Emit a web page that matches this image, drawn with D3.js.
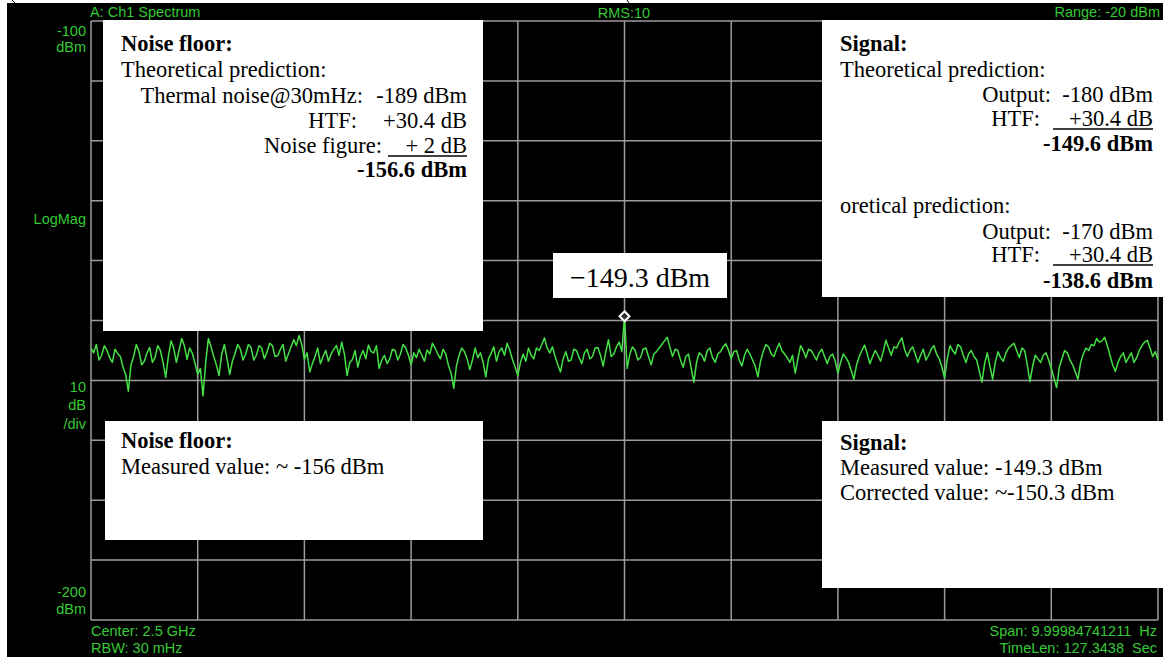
<!DOCTYPE html>
<html>
<head>
<meta charset="utf-8">
<script src="https://cdn.jsdelivr.net/npm/d3@7"></script>
<style>
body { margin: 0; background: #fff; }
</style>
</head>
<body>
<script>
const svgW = 1167;
const svgH = 657;

// trace, 401 points over 10 divisions (dBm)
const traceDbm = [
  -154.6, -155.4, -154.0, -156.6, -155.8, -154.2, -155.0, -156.2, -157.0, -154.8,
  -155.5, -156.0, -157.8, -159.0, -161.8, -157.4, -156.0, -154.0, -155.2, -157.4,
  -156.8, -155.4, -154.5, -157.0, -156.2, -154.2, -155.0, -157.0, -159.5, -156.0,
  -153.4, -154.6, -157.0, -155.0, -153.0, -154.2, -156.5, -154.6, -155.5, -157.2,

  -159.0, -158.0, -162.6, -157.0, -153.0, -154.4, -156.0, -157.4, -159.2, -155.6,
  -154.0, -156.4, -159.0, -156.8, -155.5, -154.0, -154.8, -156.6, -155.6, -154.0,
  -154.5, -156.6, -155.8, -154.2, -154.6, -156.4, -155.2, -153.8, -154.2, -156.0,
  -155.9, -154.8, -154.0, -156.8, -155.6, -154.4, -153.2, -154.2, -152.5, -154.0,

  -156.5, -155.4, -158.6, -157.2, -156.0, -154.6, -157.2, -156.0, -155.0, -156.8,
  -155.6, -154.8, -154.2, -155.8, -153.6, -155.6, -159.2, -157.0, -156.5, -155.0,
  -157.8, -156.0, -155.0, -156.4, -154.1, -155.2, -155.4, -154.2, -158.0, -156.6,
  -155.8, -157.2, -156.4, -154.8, -155.0, -156.6, -155.6, -154.0, -154.6, -155.8,

  -157.4, -155.4, -156.2, -154.8, -155.8, -156.8, -154.9, -155.6, -153.8, -154.6,
  -155.6, -156.4, -154.8, -155.6, -157.5, -158.8, -161.3, -157.6, -155.8, -154.6,
  -155.2, -156.4, -158.2, -156.6, -154.6, -156.2, -155.4, -157.0, -159.4, -156.4,
  -155.5, -154.4, -156.8, -155.2, -154.6, -155.8, -153.8, -155.0, -156.5, -157.8,

  -159.2, -157.0, -155.6, -156.8, -154.6, -155.8, -156.4, -154.6, -155.0, -154.0,
  -152.9, -154.6, -155.4, -154.4, -156.0, -157.4, -158.6, -156.4, -155.2, -156.8,
  -156.6, -154.8, -155.0, -156.2, -157.2, -155.4, -154.8, -156.4, -156.0, -154.6,
  -154.5, -155.8, -157.6, -155.2, -153.2, -156.0, -155.6, -154.4, -153.6, -155.2,

  -149.3,
  -158.0, -155.6, -154.4, -155.0, -156.6, -156.2, -154.8, -154.6, -156.0, -157.4,
  -155.6, -155.2, -154.6, -154.0, -153.4, -152.8, -154.4, -156.0, -154.8, -155.0,
  -156.6, -157.8, -156.0, -155.6, -158.0, -160.3, -157.0, -155.4, -155.8, -156.8,
  -155.0, -154.6, -156.2, -157.0, -155.6, -155.2, -154.4, -153.9, -155.0,

  -156.4, -155.2, -155.0, -156.6, -157.6, -155.8, -154.8, -155.6, -156.6, -157.6,
  -159.4, -156.8, -155.2, -154.0, -154.4, -155.6, -156.0, -154.8, -153.8, -155.0,
  -155.6, -156.2, -157.0, -155.8, -158.8, -156.4, -154.2, -155.0, -156.2, -154.8,
  -155.0, -155.8, -156.6, -155.4, -154.8, -156.0, -157.2, -156.0, -155.6, -156.8,

  -158.8, -157.0, -155.6, -156.2, -157.0, -158.4, -159.8, -157.4, -156.0, -155.0,
  -154.1, -155.6, -157.2, -156.0, -155.0, -155.8, -156.8, -155.2, -153.3, -154.6,
  -155.8, -154.4, -154.6, -153.6, -152.9, -154.8, -156.0, -155.0, -154.4, -155.6,
  -157.0, -155.8, -154.8, -156.6, -155.8, -154.8, -154.2, -155.6, -156.4, -157.8,

  -159.6, -156.4, -154.2, -155.0, -155.6, -154.0, -154.4, -155.8, -157.0, -155.6,
  -155.0, -156.0, -156.6, -158.4, -160.3, -157.2, -155.4, -157.6, -159.8, -157.0,
  -155.2, -156.2, -156.8, -155.4, -154.6, -154.2, -153.8, -155.0, -156.2, -154.6,
  -155.0, -157.4, -160.2, -157.6, -155.8, -156.4, -157.0, -155.8, -155.4, -156.6,

  -158.0, -159.6, -161.2, -157.8, -156.4, -155.0, -155.4, -156.6, -157.4, -158.6,
  -159.8, -157.0, -155.6, -154.6, -155.0, -154.0, -154.2, -153.0, -153.6, -153.4,
  -152.8, -154.2, -155.8, -157.4, -158.5, -157.0, -156.0, -155.4, -157.0, -156.2,
  -155.4, -157.0, -156.2, -155.0, -154.2, -153.6, -153.3, -154.6, -156.0, -155.2,
  -156.6
];
const markerIndex = 200;
const markerLabel = '\u2212149.3 dBm';

const refLevel = -100;
const bottomLevel = -200;
const yGrid = d3.range(-200, -99, 10);
const xGrid = d3.range(0, 401, 40);

// screen annotations
const headerLeft = 'A: Ch1 Spectrum';
const headerMid = 'RMS:10';
const headerRight = 'Range: -20 dBm';
const footerLeft = ['Center: 2.5 GHz', 'RBW: 30 mHz'];
const footerRight = ['Span: 9.99984741211  Hz', 'TimeLen: 127.3438  Sec'];

const green = '#35c935';
const gridColor = '#9c9c9c';

const svg = d3.select('body')
              .append('svg')
              .attr('width', svgW)
              .attr('height', svgH)
              .style('display', 'block');

svg.append('rect').attr('width', svgW).attr('height', svgH).attr('fill', '#fff');
svg.append('rect')
    .attr('x', 7).attr('y', 3)
    .attr('width', 1156).attr('height', svgH - 3)
    .attr('fill', '#000');
// small stray strokes at the top edge
svg.append('path').attr('d', 'M12,0 L15,3 M627,0 L629,3').attr('stroke', '#000').attr('stroke-width', 1);

const x = d3.scaleLinear().domain([0, traceDbm.length - 1]).range([91, 1158]);
const y = d3.scaleLinear().domain([bottomLevel, refLevel]).range([620, 21]);

// grid
const grid = svg.append('g');
grid.selectAll('line.v')
    .data(xGrid)
    .enter()
    .append('line')
    .attr('x1', d => x(d)).attr('x2', d => x(d))
    .attr('y1', y(refLevel)).attr('y2', y(bottomLevel))
    .attr('stroke', gridColor).attr('stroke-width', 1.5);
grid.selectAll('line.h')
    .data(yGrid)
    .enter()
    .append('line')
    .attr('x1', x(0)).attr('x2', x(traceDbm.length - 1))
    .attr('y1', d => y(d)).attr('y2', d => y(d))
    .attr('stroke', gridColor).attr('stroke-width', 1.5);

// trace
const line = d3.line().x((d, i) => x(i)).y(d => y(d));
svg.append('path')
    .datum(traceDbm)
    .attr('d', line)
    .attr('fill', 'none')
    .attr('stroke', '#45e045')
    .attr('stroke-width', 1.5)
    .attr('stroke-linejoin', 'round');

// marker diamond
const mx = x(markerIndex), my = y(traceDbm[markerIndex]);
svg.append('path')
    .attr('d', `M${mx},${my - 5} L${mx + 5},${my} L${mx},${my + 5} L${mx - 5},${my} Z`)
    .attr('fill', '#333')
    .attr('stroke', '#fff')
    .attr('stroke-width', 2);

// green instrument text
const gtext = (tx, ty, s, anchor) => svg.append('text')
    .attr('x', tx).attr('y', ty)
    .attr('text-anchor', anchor || 'start')
    .attr('fill', green)
    .attr('font-family', 'Liberation Sans, Arial, sans-serif')
    .attr('font-size', 14.5)
    .attr('xml:space', 'preserve')
    .text(s);

gtext(90, 17, headerLeft);
gtext(624, 18, headerMid, 'middle');
gtext(1160, 17, headerRight, 'end');
gtext(86, y(refLevel) + 15, String(refLevel), 'end');
gtext(86, y(refLevel) + 31, 'dBm', 'end');
gtext(86, 224, 'LogMag', 'end');
gtext(86, 392, String(10), 'end');
gtext(86, 410, 'dB', 'end');
gtext(86, 429, '/div', 'end');
gtext(86, 597, String(bottomLevel), 'end');
gtext(86, 614, 'dBm', 'end');
gtext(91, 636, footerLeft[0]);
gtext(91, 653, footerLeft[1]);
gtext(1157, 636, footerRight[0], 'end');
gtext(1157, 653, footerRight[1], 'end');

// white annotation boxes
const serif = 'Liberation Serif, Times New Roman, serif';
const box = (bx, by, bw, bh) => svg.append('rect')
    .attr('x', bx).attr('y', by).attr('width', bw).attr('height', bh)
    .attr('fill', '#fff');
const btext = (tx, ty, s, opts) => {
  opts = opts || {};
  return svg.append('text')
    .attr('x', tx).attr('y', ty)
    .attr('text-anchor', opts.anchor || 'start')
    .attr('font-family', serif)
    .attr('font-size', opts.size || 22.5)
    .attr('font-weight', opts.bold ? 'bold' : 'normal')
    .attr('fill', '#000')
    .attr('xml:space', 'preserve')
    .text(s);
};
const uline = (x1, x2, ly) => svg.append('line')
    .attr('x1', x1).attr('x2', x2).attr('y1', ly).attr('y2', ly)
    .attr('stroke', '#000').attr('stroke-width', 1.5);

box(103, 20, 380, 311);
btext(121, 51, 'Noise floor:', {bold: true});
btext(121, 77, 'Theoretical prediction:');
btext(363, 103, 'Thermal noise@30mHz:', {anchor: 'end'});
btext(467, 103, '-189 dBm', {anchor: 'end'});
btext(357, 128, 'HTF:', {anchor: 'end'});
btext(467, 128, '+30.4 dB', {anchor: 'end'});
btext(382, 153, 'Noise figure:', {anchor: 'end'});
btext(467, 153, '+ 2 dB', {anchor: 'end'});
uline(388, 467, 156);
btext(467, 177, '-156.6 dBm', {anchor: 'end', bold: true});

box(822, 20, 341, 277);
btext(840, 51, 'Signal:', {bold: true});
btext(840, 77, 'Theoretical prediction:');
btext(1153, 102, 'Output:  -180 dBm', {anchor: 'end'});
btext(1040, 126, 'HTF:', {anchor: 'end'});
btext(1153, 126, '+30.4 dB', {anchor: 'end'});
uline(1053, 1153, 129);
btext(1153, 151, '-149.6 dBm', {anchor: 'end', bold: true});
btext(840, 213, 'oretical prediction:');
btext(1153, 239, 'Output:  -170 dBm', {anchor: 'end'});
btext(1040, 262, 'HTF:', {anchor: 'end'});
btext(1153, 262, '+30.4 dB', {anchor: 'end'});
uline(1053, 1153, 265);
btext(1153, 288, '-138.6 dBm', {anchor: 'end', bold: true});

box(105, 421, 378, 119);
btext(121, 448, 'Noise floor:', {bold: true});
btext(121, 474, 'Measured value: ~ -156 dBm');

box(822, 421, 341, 167);
btext(840, 450, 'Signal:', {bold: true});
btext(840, 475, 'Measured value: -149.3 dBm');
btext(840, 500, 'Corrected value: ~-150.3 dBm');

// marker readout
box(553, 253, 174, 45);
btext(640, 287, markerLabel, {anchor: 'middle', size: 28});
</script>
</body>
</html>
